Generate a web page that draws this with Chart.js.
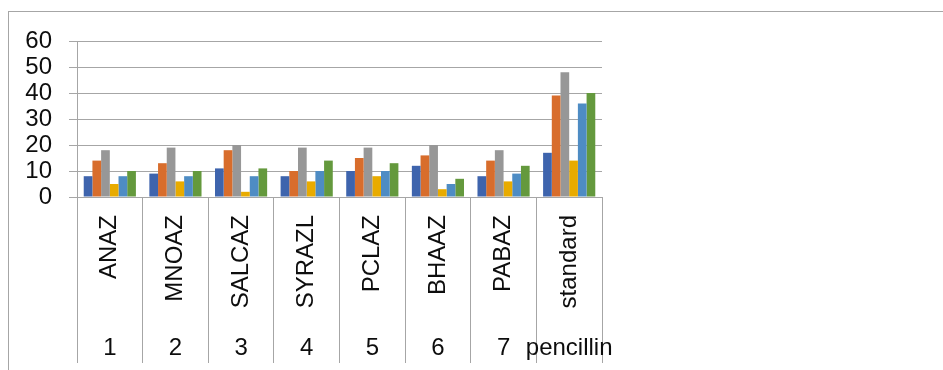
<!DOCTYPE html>
<html>
<head>
<meta charset="utf-8">
<script src="https://cdn.jsdelivr.net/npm/chart.js@4/dist/chart.umd.min.js"></script>
<style>
  html, body { margin: 0; padding: 0; background: #ffffff; }
  #wrap { position: relative; width: 943px; height: 370px; overflow: hidden; }
  #frame { position: absolute; left: 8px; top: 11px; width: 1000px; height: 400px;
           border-left: 1px solid #a6a6a6; border-top: 1px solid #a6a6a6; box-sizing: border-box; }
  canvas { position: absolute; left: 0; top: 0; }
</style>
</head>
<body>
<div id="wrap">
  <div id="frame"></div>
  <canvas id="chart" width="943" height="370"></canvas>
</div>
<script>
// Compound codes (upper category row) and their sample numbers (lower row)
const categories = ['ANAZ', 'MNOAZ', 'SALCAZ', 'SYRAZL', 'PCLAZ', 'BHAAZ', 'PABAZ', 'standard'];
const groupNumbers = ['1', '2', '3', '4', '5', '6', '7', 'pencillin'];
const yMin = 0, yMax = 60, yStep = 10;

// Six measurement series per compound
const series1 = [8, 9, 11, 8, 10, 12, 8, 17];
const series2 = [14, 13, 18, 10, 15, 16, 14, 39];
const series3 = [18, 19, 20, 19, 19, 20, 18, 48];
const series4 = [5, 6, 2, 6, 8, 3, 6, 14];
const series5 = [8, 8, 8, 10, 10, 5, 9, 36];
const series6 = [10, 10, 11, 14, 13, 7, 12, 40];

const seriesNames = ['Series1', 'Series2', 'Series3', 'Series4', 'Series5', 'Series6'];
const seriesValues = [series1, series2, series3, series4, series5, series6];
const seriesColors = ['#3e64ad', '#d86d2c', '#979797', '#e8ab00', '#4e8cc4', '#64993d'];

const font = { family: '"Liberation Sans", Arial, sans-serif', size: 24 };
const gridGray = '#a6a6a6';

new Chart(document.getElementById('chart'), {
  type: 'bar',
  data: {
    labels: categories,
    datasets: seriesValues.map((vals, i) => ({
      label: seriesNames[i],
      data: vals,
      backgroundColor: seriesColors[i],
      borderWidth: 0,
      categoryPercentage: 0.795,
      barPercentage: 1.0,
      xAxisID: 'x',
      yAxisID: 'y'
    }))
  },
  options: {
    responsive: false,
    animation: false,
    devicePixelRatio: 1,
    layout: { padding: { left: 0, right: 341, top: 41, bottom: 5 } },
    plugins: { legend: { display: false }, tooltip: { enabled: false }, title: { display: false } },
    scales: {
      y: {
        min: yMin,
        max: yMax,
        afterFit: (scale) => { scale.width = 77; },
        ticks: { stepSize: yStep, autoSkip: false, font: font, color: '#0d0d0d', padding: 17 },
        grid: { color: gridGray, lineWidth: 1, tickLength: 8 },
        border: { color: gridGray, width: 1 }
      },
      x: {
        type: 'category',
        position: 'bottom',
        offset: true,
        afterFit: (scale) => { scale.height = 113; },
        ticks: { font: font, color: '#0d0d0d', autoSkip: false, minRotation: 90, maxRotation: 90, padding: -148 },
        grid: { offset: true, drawOnChartArea: false, color: gridGray, lineWidth: 1, tickLength: 166 },
        border: { color: gridGray, width: 1 }
      },
      x2: {
        type: 'category',
        position: 'bottom',
        labels: groupNumbers,
        offset: true,
        afterFit: (scale) => { scale.height = 55; },
        ticks: { font: font, color: '#0d0d0d', autoSkip: false, maxRotation: 0, minRotation: 0, padding: 24 },
        grid: { display: false, drawTicks: false },
        border: { display: false }
      }
    }
  }
});
</script>
</body>
</html>
